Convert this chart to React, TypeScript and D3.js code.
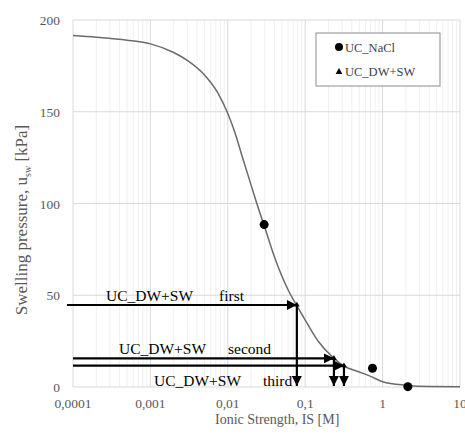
import React, { useEffect, useRef } from 'react';
import * as d3 from 'd3';

// fitted curve
const curveX = [0.0001, 0.0002, 0.0005, 0.001, 0.002, 0.003, 0.005, 0.0075, 0.01, 0.0125, 0.015, 0.02, 0.025, 0.03, 0.04, 0.06, 0.08, 0.1, 0.15, 0.23, 0.32, 0.5, 0.7, 1, 2, 4, 10];
const curveY = [191.5, 190.6, 189, 187, 182.3, 178, 170, 160, 149, 138, 127, 110, 97, 87, 71, 53, 43.5, 36.5, 24.5, 16, 11.3, 8.2, 5.8, 2.9, 1.0, 0.3, 0.2];

// UC_NaCl measurements
const naclX = [0.0295, 0.74, 2.12];
const naclY = [88.5, 10.2, 0.2];

// UC_DW+SW points
const dwX = [0.078, 0.235, 0.317];
const dwY = [44.7, 15.6, 11.6];
const dwOrder = ['first', 'second', 'third'];

const xTicks = [0.0001, 0.001, 0.01, 0.1, 1, 10];
const xTickLabels = ['0,0001', '0,001', '0,01', '0,1', '1', '10'];
const yTicks = [0, 50, 100, 150, 200];

const FONT = '"Liberation Serif", "Times New Roman", Times, serif';

const App = () => {
    const svgRef = useRef(null);

    useEffect(() => {
        const width = 465;
        const height = 435;
        const margin = { top: 20, right: 5, bottom: 48, left: 73 };
        const innerWidth = width - margin.left - margin.right;
        const innerHeight = height - margin.top - margin.bottom;

        d3.select(svgRef.current).selectAll("*").remove();

        const svg = d3.select(svgRef.current)
            .attr("width", width)
            .attr("height", height)
            .attr("font-family", FONT);

        svg.append("rect").attr("width", width).attr("height", height).attr("fill", "white");

        const g = svg.append("g")
            .attr("transform", `translate(${margin.left},${margin.top})`);

        const x = d3.scaleLog().domain([0.0001, 10]).range([0, innerWidth]);
        const y = d3.scaleLinear().domain([0, 200]).range([innerHeight, 0]);

        // minor vertical grid
        const minor = [];
        for (let e = -4; e < 1; e++) {
            for (let k = 2; k <= 9; k++) minor.push(k * Math.pow(10, e));
        }
        g.selectAll(".minor")
            .data(minor)
            .enter()
            .append("line")
            .attr("x1", d => x(d)).attr("x2", d => x(d))
            .attr("y1", 0).attr("y2", innerHeight)
            .attr("stroke", "#f0f0f0")
            .attr("stroke-width", 1);

        g.selectAll(".xmajor")
            .data(xTicks)
            .enter()
            .append("line")
            .attr("x1", d => x(d)).attr("x2", d => x(d))
            .attr("y1", 0).attr("y2", innerHeight)
            .attr("stroke", "#d9d9d9")
            .attr("stroke-width", 1);

        g.selectAll(".ymajor")
            .data(yTicks)
            .enter()
            .append("line")
            .attr("x1", 0).attr("x2", innerWidth)
            .attr("y1", d => y(d)).attr("y2", d => y(d))
            .attr("stroke", "#d9d9d9")
            .attr("stroke-width", 1);

        // tick labels
        g.selectAll(".xlab")
            .data(xTicks)
            .enter()
            .append("text")
            .attr("x", d => x(d))
            .attr("y", innerHeight + 21)
            .attr("text-anchor", "middle")
            .attr("font-family", FONT)
            .style("font-size", "13.5px")
            .attr("fill", "#595959")
            .text((d, i) => xTickLabels[i]);

        g.selectAll(".ylab")
            .data(yTicks)
            .enter()
            .append("text")
            .attr("x", -13)
            .attr("y", d => y(d) + 5)
            .attr("text-anchor", "end")
            .attr("font-family", FONT)
            .style("font-size", "13.5px")
            .attr("fill", "#595959")
            .text(d => d);

        // axis titles
        svg.append("text")
            .attr("x", margin.left + x(0.1) - 28)
            .attr("y", 424)
            .attr("text-anchor", "middle")
            .attr("font-family", FONT)
            .style("font-size", "14px")
            .attr("fill", "#595959")
            .text("Ionic Strength, IS [M]");

        const yt = svg.append("text")
            .attr("transform", "translate(27,220) rotate(-90)")
            .attr("text-anchor", "middle")
            .attr("font-family", FONT)
            .style("font-size", "17px")
            .attr("fill", "#595959");
        yt.append("tspan").text("Swelling pressure, u");
        yt.append("tspan").attr("dy", 4).style("font-size", "10px").text("sw");
        yt.append("tspan").attr("dy", -4).text(" [kPa]");

        // curve
        const line = d3.line()
            .x(d => x(d[0]))
            .y(d => y(d[1]))
            .curve(d3.curveMonotoneX);

        g.append("path")
            .datum(curveX.map((v, i) => [v, curveY[i]]))
            .attr("d", line)
            .attr("fill", "none")
            .attr("stroke", "#6b6b6b")
            .attr("stroke-width", 1.5);

        // arrows
        const defs = svg.append("defs");
        defs.append("marker")
            .attr("id", "arrow")
            .attr("viewBox", "0 0 10 10")
            .attr("refX", 10)
            .attr("refY", 5)
            .attr("markerWidth", 5)
            .attr("markerHeight", 4.5)
            .attr("markerUnits", "strokeWidth")
            .attr("orient", "auto")
            .append("path")
            .attr("d", "M0,0L10,5L0,10Z")
            .attr("fill", "black");

        const startX = [x(0.0001) - 6, x(0.0001), x(0.0001)];
        dwX.forEach((v, i) => {
            g.append("line")
                .attr("x1", startX[i]).attr("x2", x(v))
                .attr("y1", y(dwY[i])).attr("y2", y(dwY[i]))
                .attr("stroke", "black")
                .attr("stroke-width", 2.2)
                .attr("marker-end", "url(#arrow)");
            g.append("line")
                .attr("x1", x(v)).attr("x2", x(v))
                .attr("y1", y(dwY[i])).attr("y2", y(0) - 1)
                .attr("stroke", "black")
                .attr("stroke-width", 2.2)
                .attr("marker-end", "url(#arrow)");
        });

        // triangle markers
        g.selectAll(".tri")
            .data(dwX)
            .enter()
            .append("path")
            .attr("d", d3.symbol(d3.symbolTriangle, 14))
            .attr("transform", (d, i) => `translate(${x(d)},${y(dwY[i])})`)
            .attr("fill", "black");

        // circles
        g.selectAll(".nacl")
            .data(naclX)
            .enter()
            .append("circle")
            .attr("cx", d => x(d))
            .attr("cy", (d, i) => y(naclY[i]))
            .attr("r", 4.5)
            .attr("fill", "black");

        // annotation labels
        const labelPos = [
            { a: 106, b: 219, y: 301 },
            { a: 119, b: 228, y: 354 },
            { a: 154, b: 263, y: 386 }
        ];
        labelPos.forEach((p, i) => {
            svg.append("text")
                .attr("x", p.a).attr("y", p.y)
                .attr("font-family", FONT)
                .style("font-size", "15.5px")
                .attr("fill", "black")
                .text("UC_DW+SW");
            svg.append("text")
                .attr("x", p.b).attr("y", p.y)
                .attr("font-family", FONT)
                .style("font-size", "15.5px")
                .attr("fill", "black")
                .text(dwOrder[i]);
        });

        // legend
        const lg = svg.append("g").attr("transform", "translate(316,33)");
        lg.append("rect")
            .attr("width", 124).attr("height", 53)
            .attr("fill", "white")
            .attr("stroke", "#8c8c8c")
            .attr("stroke-width", 1);
        lg.append("circle").attr("cx", 23).attr("cy", 14).attr("r", 4).attr("fill", "black");
        lg.append("text").attr("x", 29).attr("y", 18.5)
            .attr("font-family", FONT)
            .style("font-size", "12.5px").attr("fill", "#404040").text("UC_NaCl");
        lg.append("path")
            .attr("d", d3.symbol(d3.symbolTriangle, 20))
            .attr("transform", "translate(23,39)")
            .attr("fill", "black");
        lg.append("text").attr("x", 29).attr("y", 43)
            .attr("font-family", FONT)
            .style("font-size", "12.5px").attr("fill", "#404040").text("UC_DW+SW");
    }, []);

    return (
        <div>
            <svg ref={svgRef} style={{ position: 'absolute', left: 0, top: 0 }}></svg>
        </div>
    );
};

export default App;
